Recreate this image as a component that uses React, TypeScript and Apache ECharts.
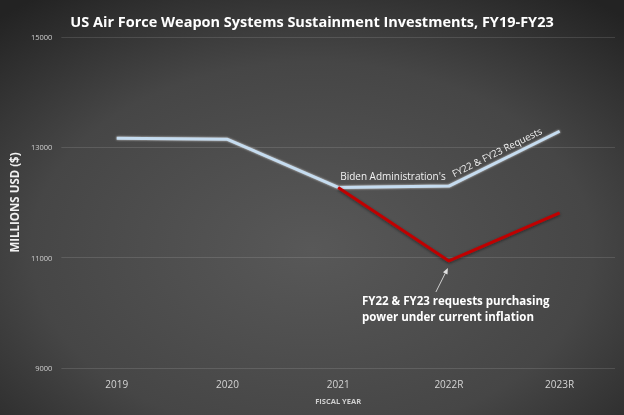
import React, { useEffect, useRef } from "react";
import * as echarts from "echarts";

const categories = ["2019", "2020", "2021", "2022R", "2023R"];
const requestValues = [13164, 13145, 12273, 12297, 13291];
const inflationValues: (number | null)[] = [null, null, 12273, 10940, 11813];
const yTicks = { min: 9000, max: 15000, interval: 2000 };

const titleText = "US Air Force Weapon Systems Sustainment Investments, FY19-FY23";
const yName = "MILLIONS USD ($)";
const xName = "FISCAL YEAR";
const label1 = "Biden Administration's";
const label2 = "FY22 & FY23 Requests";
const note = "FY22 & FY23 requests purchasing\npower under current inflation";

export default function App() {
  const ref = useRef<HTMLDivElement>(null);
  useEffect(() => {
    document.body.style.margin = "0";
    const chart = echarts.init(ref.current!, null, { renderer: "svg" });
    const font = "'Open Sans', 'Noto Sans', sans-serif";
    chart.setOption({
      animation: false,
      backgroundColor: {
        type: "radial",
        x: 0.5,
        y: 0.6,
        r: 0.75,
        colorStops: [
          { offset: 0, color: "#585858" },
          { offset: 0.6, color: "#464646" },
          { offset: 1, color: "#232323" },
        ],
      },
      textStyle: { fontFamily: font },
      title: {
        text: titleText,
        left: "center",
        top: 9,
        textStyle: { color: "#ffffff", fontSize: 14.5, fontWeight: "bold", fontFamily: font },
      },
      grid: { left: 60, right: 9, top: 37, bottom: 47 },
      xAxis: {
        type: "category",
        data: categories,
        boundaryGap: true,
        axisLine: { show: false },
        axisTick: { show: false },
        axisLabel: { color: "#d4d4d4", fontSize: 10, margin: 11 },
        name: xName,
        nameLocation: "middle",
        nameGap: 29,
        nameTextStyle: { color: "#cfcfcf", fontSize: 7.5, fontWeight: "bold" },
      },
      yAxis: {
        type: "value",
        min: yTicks.min,
        max: yTicks.max,
        interval: yTicks.interval,
        axisLine: { show: false },
        axisTick: { show: false },
        splitLine: { lineStyle: { color: "rgba(255,255,255,0.12)", width: 1 } },
        axisLabel: {
          color: "#cfcfcf",
          fontSize: 7.5,
          margin: 9,
          formatter: (v: number) => String(v),
        },
        name: yName,
        nameLocation: "middle",
        nameGap: 40,
        nameRotate: 90,
        nameTextStyle: { color: "#f2f2f2", fontSize: 11.5, fontWeight: "bold" },
      },
      series: [
        {
          type: "line",
          data: requestValues,
          symbol: "none",
          lineStyle: {
            color: "#c5dcf0",
            width: 3,
            shadowColor: "rgba(255,255,255,0.7)",
            shadowBlur: 2,
          },
          z: 2,
        },
        {
          type: "line",
          data: inflationValues,
          symbol: "none",
          lineStyle: {
            color: "#c00000",
            width: 3,
            shadowColor: "rgba(0,0,0,0.5)",
            shadowBlur: 3,
            shadowOffsetY: 1,
          },
          z: 3,
        },
      ],
    });

    const p2 = chart.convertToPixel({ seriesIndex: 0 }, [2, requestValues[2]]) as number[];
    const p3 = chart.convertToPixel({ seriesIndex: 0 }, [3, requestValues[3]]) as number[];
    const p4 = chart.convertToPixel({ seriesIndex: 0 }, [4, requestValues[4]]) as number[];
    const r3 = chart.convertToPixel({ seriesIndex: 1 }, [3, inflationValues[3] as number]) as number[];
    const ang = Math.atan2(p3[1] - p4[1], p4[0] - p3[0]);
    const t = 0.47;
    const cx = p3[0] + t * (p4[0] - p3[0]) - Math.sin(ang) * 9;
    const cy = p3[1] + t * (p4[1] - p3[1]) - Math.cos(ang) * 9;

    const headX = r3[0] - 1;
    const headY = r3[1] + 7;
    const tailX = r3[0] - 13;
    const tailY = r3[1] + 31;
    const aAng = Math.atan2(headY - tailY, headX - tailX);
    const hl = 6;
    const hw = 2.5;
    const bx = headX - Math.cos(aAng) * hl;
    const by = headY - Math.sin(aAng) * hl;

    chart.setOption({
      graphic: [
        {
          type: "text",
          x: p2[0] + 2,
          y: p2[1] - 11,
          style: {
            text: label1,
            fill: "#f2f2f2",
            fontSize: 10,
            fontFamily: font,
            align: "left",
            verticalAlign: "middle",
          },
        },
        {
          type: "text",
          x: cx,
          y: cy,
          rotation: ang,
          style: {
            text: label2,
            fill: "#f2f2f2",
            fontSize: 9.7,
            fontFamily: font,
            align: "center",
            verticalAlign: "middle",
          },
        },
        {
          type: "line",
          shape: { x1: tailX, y1: tailY, x2: bx, y2: by },
          style: { stroke: "#cfcfcf", lineWidth: 1 },
        },
        {
          type: "polygon",
          shape: {
            points: [
              [headX, headY],
              [bx - Math.sin(aAng) * hw, by + Math.cos(aAng) * hw],
              [bx + Math.sin(aAng) * hw, by - Math.cos(aAng) * hw],
            ],
          },
          style: { fill: "#e0e0e0" },
        },
        {
          type: "text",
          x: r3[0] - 87,
          y: r3[1] + 32,
          style: {
            text: note,
            fill: "#ffffff",
            fontSize: 11.5,
            fontWeight: "bold",
            fontFamily: font,
            lineHeight: 16,
            align: "left",
            verticalAlign: "top",
          },
        },
      ],
    });
    return () => chart.dispose();
  }, []);
  return (
    <div
      ref={ref}
      style={{ position: "fixed", left: 0, top: 0, width: 624, height: 415 }}
    />
  );
}
